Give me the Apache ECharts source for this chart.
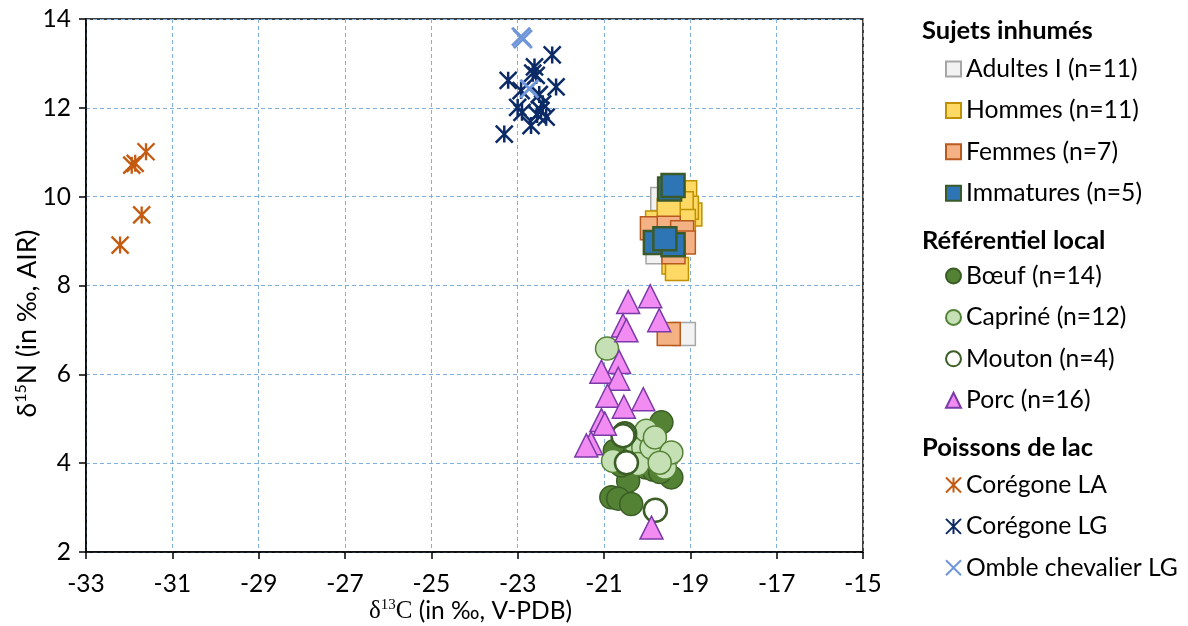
<!DOCTYPE html>
<html>
<head>
<meta charset="utf-8">
<script src="https://cdn.jsdelivr.net/npm/echarts@6/dist/echarts.min.js"></script>
<style>
html,body{margin:0;padding:0;background:#fff;}
#chart{width:1188px;height:626px;}
</style>
</head>
<body>
<div id="chart"></div>
<script>
// ---- Data (δ13C, δ15N) ----
const xTicks = [-33, -31, -29, -27, -25, -23, -21, -19, -17, -15];
const yTicks = [2, 4, 6, 8, 10, 12, 14];

const adultes = [[-19.65, 9.95], [-19.5, 9.6], [-19.3, 9.4], [-19.6, 9.2], [-19.2, 9.7], [-19.4, 9.0],
  [-19.5, 8.9], [-19.3, 9.9], [-19.76, 8.75], [-19.4, 9.5], [-19.15, 6.91]];
const hommes = [[-19.12, 10.1], [-19.0, 9.6], [-19.08, 9.75], [-19.39, 9.95], [-19.77, 9.42], [-19.39, 8.52],
  [-19.31, 8.37], [-19.2, 9.85], [-19.3, 9.2], [-19.15, 9.45], [-19.5, 9.7]];
const femmes = [[-19.7, 9.0], [-19.89, 9.29], [-19.5, 9.3], [-19.19, 9.2], [-19.15, 8.97], [-19.39, 8.75], [-19.5, 6.91]];
const immatures = [[-19.48, 10.17], [-19.4, 10.25], [-19.81, 8.97], [-19.4, 8.92], [-19.59, 9.05]];
const boeuf = [[-19.67, 4.92], [-19.44, 3.68], [-20.44, 3.60], [-20.83, 3.23], [-20.67, 3.20], [-20.37, 3.08],
  [-20.02, 3.90], [-20.75, 4.28], [-20.2, 4.05], [-19.85, 3.85], [-20.3, 4.2], [-19.7, 3.8], [-20.6, 3.95], [-20.1, 4.45]];
const caprine = [[-20.93, 6.58], [-20.4, 4.58], [-20.25, 4.43], [-20.09, 4.35], [-20.22, 3.98], [-20.02, 4.73],
  [-19.9, 4.35], [-19.82, 4.58], [-19.59, 3.9], [-19.44, 4.24], [-19.71, 4.01], [-20.79, 4.05]];
const mouton = [[-20.52, 4.66], [-20.56, 4.62], [-20.48, 4.01], [-19.81, 2.94]];
const porc = [[-20.44, 7.63], [-19.93, 7.76], [-19.72, 7.22], [-20.56, 7.1], [-20.48, 6.99], [-20.65, 6.28],
  [-21.06, 6.06], [-20.67, 5.9], [-20.92, 5.52], [-20.09, 5.44], [-20.54, 5.27], [-21.06, 4.97], [-20.98, 4.89],
  [-21.3, 4.45], [-21.41, 4.40], [-19.9, 2.55]];
const coregoneLA = [[-31.61, 11.01], [-31.86, 10.75], [-31.94, 10.71], [-31.71, 9.59], [-32.21, 8.91]];
const coregoneLG = [[-22.20, 13.19], [-22.61, 12.92], [-23.22, 12.62], [-22.57, 12.73], [-22.65, 12.78], [-22.11, 12.47],
  [-22.92, 12.39], [-23.0, 12.01], [-22.42, 12.09], [-22.46, 11.94], [-22.34, 11.79], [-22.69, 11.6], [-23.31, 11.41],
  [-22.9, 11.9], [-22.55, 11.85], [-22.5, 12.3]];
const omble = [[-22.88, 13.55], [-22.92, 13.6], [-22.73, 12.43]];

const FONT = 'Lato';
const FS = 24.5;
const LFS = 24.7;
const asterisk = 'path://M0,0L10,10M10,0L0,10M5,0L5,10';
const cross = 'path://M0,0L10,10M10,0L0,10';

function sq(name, data, fill, border, bw) {
  return {name, type: 'scatter', data, symbol: 'rect', symbolSize: 23,
    itemStyle: {color: fill, borderColor: border, borderWidth: bw, opacity: 1}};
}
function circ(name, data, fill, border, bw) {
  return {name, type: 'scatter', data, symbol: 'circle', symbolSize: 23,
    itemStyle: {color: fill, borderColor: border, borderWidth: bw, opacity: 1}};
}

const chart = echarts.init(document.getElementById('chart'), null, {renderer: 'canvas'});
const legendText = {fontFamily: FONT, fontSize: LFS, color: '#000', lineHeight: 25};
const legendBase = {orient: 'vertical', left: 945, padding: 0, itemWidth: 15, itemHeight: 15,
  itemGap: 16.4, textStyle: legendText, selectedMode: false};
const titleFont = 'bold 25.5px Lato';

chart.setOption({
  animation: false,
  backgroundColor: '#fff',
  grid: {left: 86, right: 325, top: 19, bottom: 74, show: true, borderColor: '#000', borderWidth: 1.5,
    containLabel: false, outerBoundsMode: 'none'},
  xAxis: {
    type: 'value', min: -33, max: -15,
    axisLine: {lineStyle: {color: '#000', width: 1.5}},
    axisTick: {show: true, length: 7, lineStyle: {color: '#000', width: 1.5}, customValues: xTicks},
    axisLabel: {customValues: xTicks, fontFamily: FONT, fontSize: FS, color: '#000', margin: 20},
    splitLine: {show: true, lineStyle: {color: '#7fb0e0', type: [4, 3], width: 1}},
    name: '{d|δ}{s|13}{c|C}{n| (in ‰, V-PDB)}',
    nameLocation: 'middle', nameGap: 46, nameMoveOverlap: false,
    nameTextStyle: {
      fontFamily: FONT, fontSize: 24, color: '#000', padding: [0, 8, 0, 0],
      rich: {
        d: {fontFamily: 'Liberation Serif', fontSize: 25, color: '#000', lineHeight: 27},
        s: {fontFamily: 'Liberation Serif', fontSize: 15, color: '#000', verticalAlign: 'top', lineHeight: 27},
        c: {fontFamily: 'Liberation Serif', fontSize: 25, color: '#000', lineHeight: 27},
        n: {fontFamily: FONT, fontSize: 24.5, color: '#000', lineHeight: 27}
      }
    }
  },
  yAxis: {
    type: 'value', min: 2, max: 14, interval: 2,
    axisLine: {show: true, lineStyle: {color: '#000', width: 1.5}},
    axisTick: {show: true, length: 7, lineStyle: {color: '#000', width: 1.5}},
    axisLabel: {fontFamily: FONT, fontSize: FS, color: '#000', margin: 15},
    splitLine: {show: true, lineStyle: {color: '#7fb0e0', type: [4, 3], width: 1}},
    name: '{d|δ}{s|15}{n|N (in ‰, AIR)}',
    nameLocation: 'middle', nameGap: 45, nameRotate: 90, nameMoveOverlap: false,
    nameTextStyle: {
      fontFamily: FONT, fontSize: 26.5, color: '#000', padding: [0, 76, 0, 0],
      rich: {
        d: {fontFamily: FONT, fontSize: 26.5, color: '#000', lineHeight: 28},
        s: {fontFamily: FONT, fontSize: 16, color: '#000', verticalAlign: 'top', lineHeight: 28},
        n: {fontFamily: FONT, fontSize: 26.5, color: '#000', lineHeight: 28}
      }
    }
  },
  legend: [
    Object.assign({}, legendBase, {top: 56.5, data: ['Adultes I (n=11)', 'Hommes (n=11)', 'Femmes (n=7)', 'Immatures (n=5)']}),
    Object.assign({}, legendBase, {top: 263.5, data: ['Bœuf (n=14)', 'Capriné (n=12)', 'Mouton (n=4)', 'Porc (n=16)']}),
    Object.assign({}, legendBase, {top: 472.5, data: ['Corégone LA', 'Corégone LG', 'Omble chevalier LG']})
  ],
  graphic: [
    {type: 'text', x: 922, y: 31, style: {text: 'Sujets inhumés', font: titleFont, fill: '#000', verticalAlign: 'middle'}},
    {type: 'text', x: 922, y: 241, style: {text: 'Référentiel local', font: titleFont, fill: '#000', verticalAlign: 'middle'}},
    {type: 'text', x: 922, y: 448, style: {text: 'Poissons de lac', font: titleFont, fill: '#000', verticalAlign: 'middle'}}
  ],
  series: [
    sq('Adultes I (n=11)', adultes, '#f2f2f2', '#a6a6a6', 1.5),
    sq('Hommes (n=11)', hommes, '#ffd966', '#bf9000', 1.5),
    sq('Femmes (n=7)', femmes, '#f4b183', '#b85a1e', 1.5),
    sq('Immatures (n=5)', immatures, '#2e75b6', '#3a5a2a', 2.5),
    circ('Bœuf (n=14)', boeuf, '#548235', '#3a5e25', 1.5),
    circ('Capriné (n=12)', caprine, '#c5e0b4', '#548235', 1.5),
    circ('Mouton (n=4)', mouton, '#ffffff', '#3a5e25', 2.5),
    {name: 'Porc (n=16)', type: 'scatter', data: porc, symbol: 'triangle', symbolSize: 23,
      itemStyle: {color: '#f28cf2', borderColor: '#7a3aa8', borderWidth: 1.5, opacity: 1}},
    {name: 'Corégone LA', type: 'scatter', data: coregoneLA, symbol: asterisk, symbolSize: 17,
      itemStyle: {color: '#c55a11', borderColor: '#c55a11', borderWidth: 2.3, opacity: 1}},
    {name: 'Corégone LG', type: 'scatter', data: coregoneLG, symbol: asterisk, symbolSize: 17,
      itemStyle: {color: '#0b2a66', borderColor: '#0b2a66', borderWidth: 2.5, opacity: 1}},
    {name: 'Omble chevalier LG', type: 'scatter', data: omble, symbol: cross, symbolSize: 18,
      itemStyle: {color: '#6f96d8', borderColor: '#6f96d8', borderWidth: 3, opacity: 1}}
  ]
});
</script>
</body>
</html>
